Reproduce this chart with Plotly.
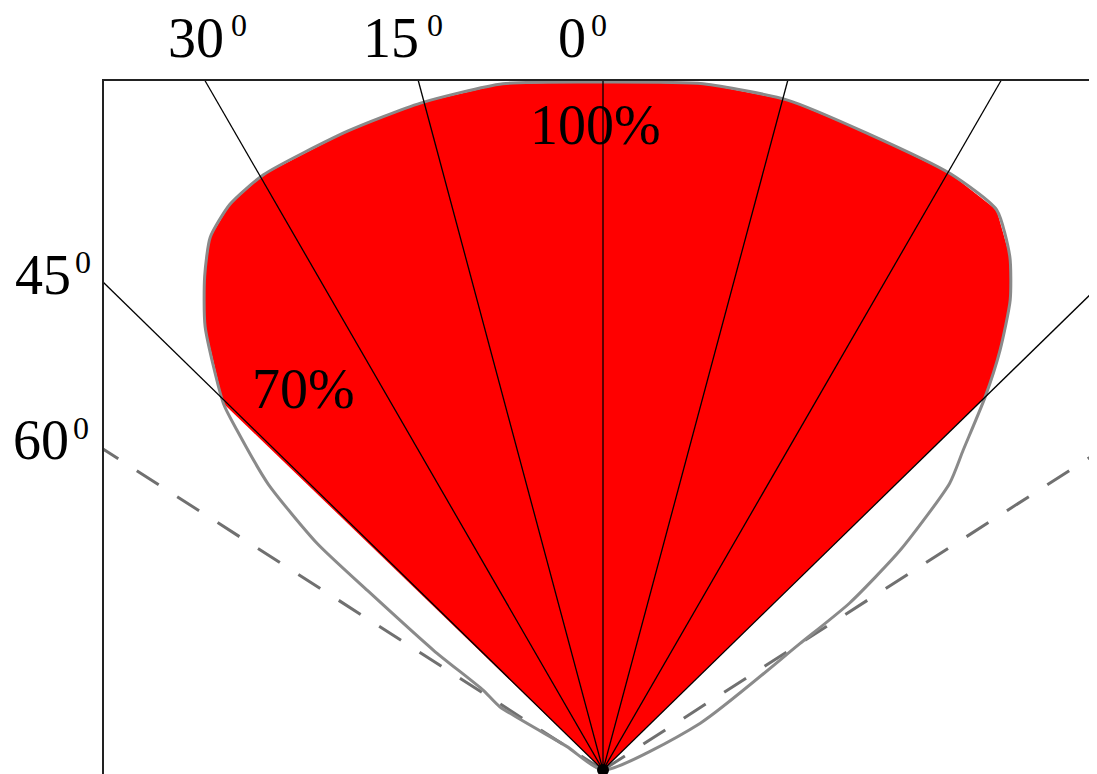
import numpy as np
import plotly.graph_objects as go

# ---- data ----
# radiation pattern: signed angle from vertical (deg, negative = left) and relative intensity (%)
pattern_angle = [-60.0, -57.0, -58.5, -56.3, -54.8, -52.7, -51.6, -49.5, -47.1, -46.0,
                 -41.9, -38.9, -36.4, -33.4, -29.7, -21.8, -15.3, -8.3, 0.0, 8.3,
                 15.4, 22.5, 30.2, 35.1, 38.4, 40.9, 43.4, 45.7, 48.4, 50.4,
                 53.5, 55.9, 57.3, 64.3, 66.0]
pattern_pct = [0.0, 6.3, 17.6, 21.0, 30.0, 43.0, 53.0, 64.0, 72.7, 76.7,
               86.6, 92.2, 96.2, 98.5, 99.6, 100.0, 100.5, 100.8, 100.0, 100.8,
               101.0, 100.2, 100.3, 99.5, 95.2, 90.4, 84.0, 77.6, 70.0, 65.4,
               53.8, 43.3, 34.0, 15.7, 0.0]
beam_limit_deg = [-46.0, 45.7]           # red beam clipped at the 45 deg rays
ray_angles = [-45.7, -30.0, -15.0, 0.0, 15.0, 30.0, 45.7]
dashed_angles = [-57.3, 57.3]
angle_labels = ["30", "15", "0", "45", "60"]
pct_labels = ["100%", "70%"]

R100 = 688.0      # radius of 100 % (plot units = pixels)
FRAME_TOP = 690.0
FRAME_HALF = 500.0

def polar_xy(ang, r):
    a = np.radians(np.asarray(ang, dtype=float))
    r = np.asarray(r, dtype=float)
    return r * np.sin(a), r * np.cos(a)

def frame_r(ang):
    a = np.radians(abs(ang))
    rt = FRAME_TOP / np.cos(a) if np.cos(a) > 1e-9 else 1e9
    rs = FRAME_HALF / np.sin(a) if np.sin(a) > 1e-9 else 1e9
    return min(rt, rs)

pa = np.array(pattern_angle)
pr = np.array(pattern_pct) / 100.0 * R100
px, py = polar_xy(pa, pr)

idx = [i for i in range(len(pa)) if beam_limit_deg[0] <= pa[i] <= beam_limit_deg[1]]
fx = np.concatenate([[0.0], px[idx], [0.0]])
fy = np.concatenate([[0.0], py[idx], [0.0]])

fig = go.Figure()

# red beam
fig.add_trace(go.Scatter(x=fx, y=fy, mode="lines", fill="toself",
                         fillcolor="#ff0000", line=dict(width=0, color="#ff0000"),
                         hoverinfo="skip", showlegend=False))

# dashed lines
for a in dashed_angles:
    ex, ey = polar_xy([0, a], [0, frame_r(a)])
    fig.add_trace(go.Scatter(x=ex, y=ey, mode="lines",
                             line=dict(color="#707070", width=3, dash="26px,22px"),
                             hoverinfo="skip", showlegend=False))

# gray pattern outline
fig.add_trace(go.Scatter(x=px, y=py, mode="lines",
                         line=dict(color="#8a8a8a", width=3, shape="spline", smoothing=0.6),
                         hoverinfo="skip", showlegend=False))

# black rays
for a in ray_angles:
    ex, ey = polar_xy([0, a], [0, frame_r(a)])
    fig.add_trace(go.Scatter(x=ex, y=ey, mode="lines",
                             line=dict(color="black", width=1.3),
                             hoverinfo="skip", showlegend=False))

# origin dot
fig.add_trace(go.Scatter(x=[0], y=[0], mode="markers",
                         marker=dict(color="black", size=12),
                         hoverinfo="skip", showlegend=False))

# frame
fig.add_shape(type="rect", x0=-FRAME_HALF, x1=FRAME_HALF + 30, y0=-60, y1=FRAME_TOP,
              line=dict(color="#222222", width=2))

SERIF = "Liberation Serif, Times New Roman, serif"
BIG = dict(family=SERIF, size=56, color="black")
SMALL = dict(family=SERIF, size=32, color="black")

# angle labels: main digits (right edge, centre) and the small superscript "0"
digit_pos = [(-378, 732), (-183, 732), (-16, 732), (-531, 495), (-533, 330)]
sup_pos = [(-373, 745), (-177, 745), (-13, 745), (-529, 508), (-531, 342)]
for txt, (dx, dy), (sx, sy) in zip(angle_labels, digit_pos, sup_pos):
    fig.add_annotation(x=dx, y=dy, xref="x", yref="y", text=txt, showarrow=False,
                       xanchor="right", yanchor="middle", font=BIG, borderpad=0)
    fig.add_annotation(x=sx, y=sy, xref="x", yref="y", text="0", showarrow=False,
                       xanchor="left", yanchor="middle", font=SMALL, borderpad=0)

pct_pos = [(-8, 645), (-300, 381)]
for txt, (lx, ly) in zip(pct_labels, pct_pos):
    fig.add_annotation(x=lx, y=ly, xref="x", yref="y", text=txt,
                       showarrow=False, xanchor="center", yanchor="middle", font=BIG)

# the page body has an 8px margin, so the figure is 8px smaller and the ranges shifted
fig.update_layout(
    width=1089, height=766, autosize=False,
    margin=dict(l=0, r=0, t=0, b=0),
    paper_bgcolor="white", plot_bgcolor="white",
    xaxis=dict(range=[-595, 494], visible=False, fixedrange=True),
    yaxis=dict(range=[-4, 762], visible=False, fixedrange=True),
    showlegend=False,
)

fig.write_html("out.html")
